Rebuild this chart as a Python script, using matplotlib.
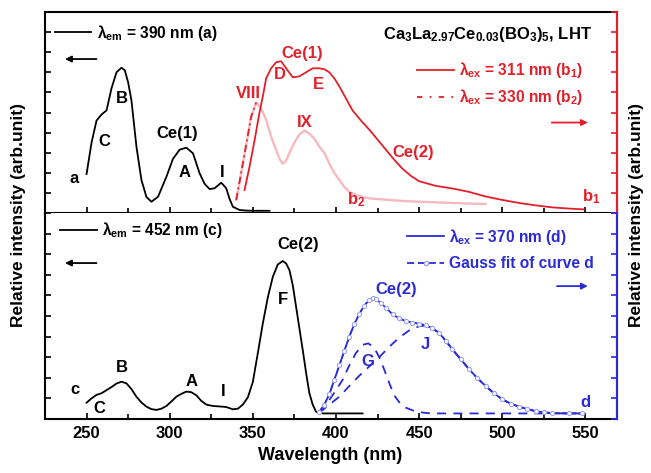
import numpy as np
import matplotlib
matplotlib.use('Agg')
import matplotlib.pyplot as plt
from matplotlib.lines import Line2D
from matplotlib.ticker import MultipleLocator

plt.rcParams['font.family'] = ['Liberation Sans', 'DejaVu Sans']
plt.rcParams['font.weight'] = 'bold'
plt.rcParams['mathtext.fontset'] = 'custom'
plt.rcParams['mathtext.rm'] = 'Liberation Sans:bold'
plt.rcParams['mathtext.it'] = 'Liberation Sans:bold'
plt.rcParams['mathtext.bf'] = 'Liberation Sans:bold'
plt.rcParams['mathtext.default'] = 'rm'

RED = '#e3202a'
PINK = '#f6b9c0'
BLUE = '#2b2bd6'
LBLUE = '#9da2f2'

# top panel: excitation (a), emission b1 / b2
wl_a = [250, 253, 256, 259, 262, 265, 268, 271, 273, 275, 277, 280, 283, 286, 289,
        293, 298, 302, 306, 310, 314, 318, 321, 324, 327, 331, 334, 336, 338, 342,
        346, 350, 360]
val_a = [1.94, 3.5, 4.6, 4.9, 5.1, 6.2, 7.0, 7.23, 7.1, 6.5, 5.6, 3.3, 1.64, 0.8, 0.56,
         0.81, 1.8, 2.7, 3.15, 3.25, 2.97, 1.97, 1.45, 1.19, 1.23, 1.51, 1.23, 0.7, 0.31, 0.15,
         0.12, 0.11, 0.11]

wl_b1 = [345, 348, 351, 354, 356, 358, 361, 364, 367, 370, 374, 378, 382, 386, 390,
         393, 396, 399, 402, 406, 410, 415, 420, 425, 430, 435, 440, 445, 450, 460,
         470, 480, 490, 500, 510, 520, 530, 540, 549]
val_b1 = [1.14, 2.3, 3.6, 5.0, 5.8, 6.7, 7.2, 7.5, 7.55, 7.2, 6.75, 6.8, 7.0, 7.2, 7.2,
          7.15, 7.0, 6.7, 6.3, 5.7, 5.1, 4.6, 4.15, 3.65, 3.15, 2.65, 2.2, 1.85, 1.58, 1.35,
          1.22, 1.05, 0.82, 0.65, 0.5, 0.38, 0.28, 0.22, 0.18]

wl_b2 = [340, 343, 346, 349, 352, 355, 358, 361, 364, 366, 368, 370, 372, 375, 378,
         381, 384, 387, 390, 393, 396, 399, 402, 405, 408, 412, 416, 420, 430, 440,
         450, 460, 470, 480, 490]
val_b2 = [0.65, 2.0, 3.4, 4.8, 5.5, 5.2, 4.63, 3.8, 3.13, 2.7, 2.45, 2.6, 3.0, 3.5, 3.9,
          4.1, 3.95, 3.7, 3.3, 3.0, 2.45, 2.0, 1.64, 1.3, 1.05, 0.9, 0.8, 0.73, 0.66, 0.6,
          0.56, 0.53, 0.5, 0.47, 0.45]

# bottom panel: excitation (c), emission d and gaussian components
wl_c = [250, 253, 256, 259, 262, 265, 268, 271, 274, 277, 280, 283, 286, 289, 292,
        295, 298, 301, 304, 307, 310, 313, 316, 319, 322, 326, 330, 334, 338, 341,
        344, 347, 350, 353, 356, 359, 362, 365, 368, 370, 372, 374, 376, 378, 380,
        382, 384, 386, 388, 392, 400, 416]
val_c = [0.79, 1.0, 1.17, 1.25, 1.4, 1.55, 1.72, 1.81, 1.73, 1.45, 1.08, 0.8, 0.6, 0.48, 0.44,
         0.5, 0.63, 0.85, 1.08, 1.22, 1.33, 1.3, 1.15, 0.88, 0.7, 0.63, 0.61, 0.58, 0.47, 0.5,
         0.7, 1.05, 1.8, 3.2, 4.64, 5.9, 6.9, 7.5, 7.67, 7.55, 7.23, 6.5, 5.45, 4.4, 3.35,
         2.25, 1.25, 0.7, 0.35, 0.27, 0.27, 0.27]

wl_d = [390, 393, 396, 399, 402, 405, 408, 411, 414, 417, 420, 422, 424, 427, 430,
        434, 438, 442, 446, 450, 454, 458, 462, 466, 470, 475, 480, 485, 490, 495,
        500, 505, 510, 515, 520, 525, 530, 540, 548]
val_d = [0.35, 0.7, 1.2, 1.9, 2.6, 3.3, 4.0, 4.6, 5.1, 5.5, 5.78, 5.85, 5.82, 5.62, 5.4,
         5.08, 4.88, 4.75, 4.68, 4.62, 4.55, 4.4, 4.18, 3.8, 3.38, 2.9, 2.42, 1.98, 1.6, 1.25,
         0.95, 0.75, 0.6, 0.48, 0.38, 0.32, 0.28, 0.27, 0.27]

wl_g = [390, 395, 400, 404, 408, 412, 416, 419.5, 423, 426, 429, 432, 435, 438.5, 442,
        446, 450, 457, 470, 490, 510, 530, 550]
val_g = [0.3, 0.8, 1.4, 1.9, 2.6, 3.2, 3.6, 3.67, 3.45, 3.0, 2.4, 1.75, 1.15, 0.76, 0.55,
         0.42, 0.33, 0.27, 0.27, 0.27, 0.27, 0.27, 0.27]

wl_j = [390, 396, 402, 408, 414, 420, 426, 432, 438, 444, 450, 455, 458, 462, 466,
        470, 475, 480, 485, 490, 495, 500, 505, 510, 520, 530, 540, 548]
val_j = [0.3, 0.7, 1.08, 1.6, 2.1, 2.55, 3.0, 3.5, 3.95, 4.3, 4.5, 4.55, 4.4, 4.18, 3.8,
         3.38, 2.9, 2.42, 1.98, 1.6, 1.25, 0.95, 0.75, 0.6, 0.38, 0.28, 0.27, 0.27]

xticks = [250, 300, 350, 400, 450, 500, 550]

fig = plt.figure(figsize=(6.51, 4.73), dpi=100)
ax1 = fig.add_axes([0.0691, 0.5497, 0.8787, 0.4249])
ax2 = fig.add_axes([0.0691, 0.1142, 0.8787, 0.4355], sharex=ax1)

for ax in (ax1, ax2):
    ax.set_xlim(225, 569)
    ax.set_ylim(0, 10)
    ax.xaxis.set_major_locator(MultipleLocator(50))
    ax.xaxis.set_minor_locator(MultipleLocator(25))
    ax.yaxis.set_major_locator(MultipleLocator(1))
    ax.tick_params(axis='both', which='both', direction='in', width=1.2)
    ax.tick_params(which='major', length=4.5)
    ax.tick_params(which='minor', length=3.5)
    ax.tick_params(axis='y', labelleft=False, right=False)
    for s in ax.spines.values():
        s.set_linewidth(1.5)

ax1.tick_params(axis='x', labelbottom=False, top=False)
ax2.tick_params(axis='x', top=False, labelsize=12, pad=5)
ax2.spines['top'].set_visible(False)
ax2.set_xticks(xticks)
ax2.set_xticklabels([str(t) for t in xticks], fontweight='bold')

# right axes with coloured spines
for ax, col in ((ax1, RED), (ax2, BLUE)):
    tw = ax.twinx()
    tw.set_ylim(0, 10)
    tw.yaxis.set_major_locator(MultipleLocator(1))
    tw.tick_params(axis='y', which='both', direction='in', colors=col, width=1.2,
                   length=4.5, labelright=False)
    ax.spines['right'].set_color(col)
    tw.spines['right'].set_color(col)
    tw.spines['right'].set_linewidth(1.5)
    for k in ('left', 'top', 'bottom'):
        tw.spines[k].set_visible(False)

# top panel curves
ax1.plot(wl_a, val_a, color='k', lw=1.3)
ax1.plot(wl_b2, val_b2, color=PINK, lw=1.7)
rise = np.array(wl_b2) <= 352
ax1.plot(np.array(wl_b2)[rise], np.array(val_b2)[rise], color=RED, lw=1.3,
         ls=(0, (4, 2, 1, 2)))
ax1.plot(wl_b1, val_b1, color=RED, lw=1.3)

# bottom panel curves
ax2.plot(wl_c, val_c, color='k', lw=1.3)
ax2.plot(wl_g, val_g, color=BLUE, lw=1.3, ls=(0, (5, 4)))
ax2.plot(wl_j, val_j, color=BLUE, lw=1.3, ls=(0, (5, 4)))
ax2.plot(wl_d, val_d, color=BLUE, lw=1.3)
ax2.plot(wl_d, val_d, color=BLUE, lw=1.0, ls=(0, (4, 2)), marker='o', ms=3,
         mfc='white', mec=LBLUE, mew=0.8)

# legends
fs = 11.2
prop = {'size': fs, 'weight': 'bold'}
leg = ax1.legend(handles=[Line2D([], [], color='k', lw=1.3)],
                 labels=['λ$_{em}$ = 390 nm (a)'], loc='center left',
                 bbox_to_anchor=(0.0175, 0.896), frameon=False, borderpad=0,
                 borderaxespad=0, handlelength=2.3, handletextpad=0.4, prop=prop)
ax1.add_artist(leg)
ax1.legend(handles=[Line2D([], [], color=RED, lw=1.3),
                    Line2D([], [], color=RED, lw=1.3, ls=(0, (3, 4, 1, 4)))],
           labels=['λ$_{ex}$ = 311 nm (b$_1$)', 'λ$_{ex}$ = 330 nm (b$_2$)'],
           loc='center left', bbox_to_anchor=(0.65, 0.644), frameon=False, borderpad=0,
           borderaxespad=0, handlelength=2.4, handletextpad=0.3, labelspacing=0.45,
           labelcolor=RED, prop=prop)

leg = ax2.legend(handles=[Line2D([], [], color='k', lw=1.3)],
                 labels=['λ$_{em}$ = 452 nm (c)'], loc='center left',
                 bbox_to_anchor=(0.026, 0.917), frameon=False, borderpad=0,
                 borderaxespad=0, handlelength=2.4, handletextpad=0.3, prop=prop)
ax2.add_artist(leg)
ax2.legend(handles=[Line2D([], [], color=BLUE, lw=1.3),
                    Line2D([], [], color=BLUE, lw=1.3, ls=(0, (4, 2)), marker='o', ms=3,
                           mfc='white', mec=LBLUE)],
           labels=['λ$_{ex}$ = 370 nm (d)', 'Gauss fit of curve d'], numpoints=1,
           loc='center left', bbox_to_anchor=(0.633, 0.825), frameon=False, borderpad=0,
           borderaxespad=0, handlelength=2.4, handletextpad=0.3, labelspacing=0.6,
           labelcolor=BLUE, prop=prop)

# arrows
arr = dict(arrowstyle='-|>', lw=1.3, mutation_scale=9, shrinkA=0, shrinkB=0)
ax1.annotate('', xy=(0.035, 0.766), xytext=(0.09, 0.766), xycoords='axes fraction',
             arrowprops=dict(arr, color='k'))
ax1.annotate('', xy=(0.949, 0.45), xytext=(0.886, 0.45), xycoords='axes fraction',
             arrowprops=dict(arr, color=RED))
ax2.annotate('', xy=(0.035, 0.757), xytext=(0.09, 0.757), xycoords='axes fraction',
             arrowprops=dict(arr, color='k'))
ax2.annotate('', xy=(0.949, 0.645), xytext=(0.895, 0.645), xycoords='axes fraction',
             arrowprops=dict(arr, color=BLUE))

ax1.text(0.956, 0.886, 'Ca$_3$La$_{2.97}$Ce$_{0.03}$(BO$_3$)$_5$, LHT', transform=ax1.transAxes,
         ha='right', va='center', fontsize=12)

# peak labels
lab = dict(ha='center', va='center', fontsize=12, fontweight='bold')
for t, x, y in [('a', 242.8, 1.74), ('C', 260.8, 3.58), ('B', 271, 5.72),
                ('Ce(1)', 304.8, 3.98), ('A', 309, 1.99), ('I', 331.3, 1.99)]:
    ax1.text(x, y, t, color='k', **lab)
for t, x, y in [('VIII', 347.6, 5.97), ('D', 366.3, 6.87), ('Ce(1)', 379.5, 7.96),
                ('E', 389.2, 6.37), ('IX', 381.3, 4.48), ('Ce(2)', 446.4, 3.03),
                ('b$_2$', 412, 0.65), ('b$_1$', 553.6, 0.8)]:
    ax1.text(x, y, t, color=RED, **lab)
for t, x, y in [('c', 242.8, 1.41), ('C', 257.8, 0.53), ('B', 271, 2.48),
                ('A', 313.3, 1.84), ('I', 331.9, 1.31), ('Ce(2)', 377, 8.45), ('F', 368, 5.78)]:
    ax2.text(x, y, t, color='k', **lab)
for t, x, y in [('Ce(2)', 436.4, 6.3), ('G', 419.3, 2.77), ('J', 453.6, 3.64), ('d', 550, 0.78)]:
    ax2.text(x, y, t, color=BLUE, **lab)

fig.text(0.029, 0.545, 'Relative intensity (arb.unit)', rotation=90, ha='center', va='center',
         fontsize=12.5, fontweight='bold')
fig.text(0.977, 0.545, 'Relative intensity (arb.unit)', rotation=90, ha='center', va='center',
         fontsize=12.5, fontweight='bold')
fig.text(0.507, 0.036, 'Wavelength (nm)', ha='center', va='center', fontsize=13,
         fontweight='bold')

fig.savefig('out.png', dpi=100)
